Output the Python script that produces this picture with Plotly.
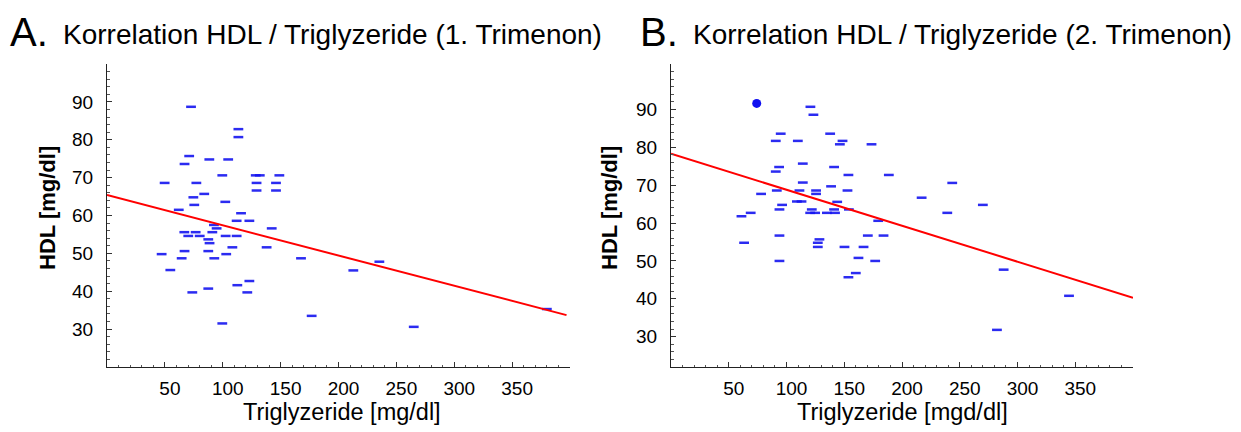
import plotly.graph_objects as go

W, H = 1241, 432

# ---------- Panel A data (1. Trimenon) ----------
a_tg = [72.6, 113.5, 113.5, 71, 67, 88.4, 104.7, 99.6, 128.5, 132, 148.9, 49.8, 77.2, 129.2, 146,
        129.2, 146, 84, 74.6, 102.2, 75.4, 62, 115.8, 112, 123, 142.3, 92.4, 94.7, 66.8, 76.6,
        91, 70.2, 80.1, 102.5, 112, 87.5, 88.6, 108.3, 137.9, 67, 87.5, 47.2, 103, 64.5, 92.7,
        167.6, 235.3, 54.7, 212.8, 123, 112.6, 87.5, 73.7, 121.2, 176.8, 99.6, 265, 380]
a_hdl = [88.7, 82.8, 80.7, 75.7, 73.6, 74.8, 74.8, 70.6, 70.6, 70.6, 70.6, 68.6, 68.6, 68.6, 68.6,
         66.6, 66.6, 65.7, 64.8, 63.6, 62.8, 61.5, 60.6, 58.6, 58.6, 56.6, 57.5, 56.6, 55.6, 55.6,
         55.6, 54.6, 54.6, 54.6, 54.6, 53.7, 52.7, 51.6, 51.6, 50.6, 50.6, 49.8, 49.8, 48.7, 48.7,
         48.7, 47.8, 45.6, 45.5, 42.7, 41.6, 40.7, 39.7, 39.7, 33.5, 31.5, 30.6, 35.3]
fit_a_x = [0, 397]
fit_a_y = [65.4, 33.7]

# ---------- Panel B data (2. Trimenon) ----------
b_tg = [120.7, 123.3, 95, 137.8, 90.7, 109.8, 148.5, 146.2, 173.6, 114.1, 93.6, 141.2, 90.7,
        153.6, 188.6, 114.1, 138.6, 91.6, 111.2, 125.6, 152.8, 78, 125.6, 243.5, 217, 109, 113,
        143.9, 96.2, 270, 93.9, 121.9, 141.2, 154, 69, 120.5, 124.8, 135, 142, 239.2, 61, 179.4,
        93.9, 170.4, 184, 128.5, 63.3, 127.1, 127.1, 150.2, 166.7, 162.3, 93.9, 176.8, 160,
        153.6, 288, 344.6, 282.2]
b_hdl = [90.7, 88.6, 83.6, 83.6, 81.7, 81.7, 81.7, 80.8, 80.8, 75.7, 74.8, 74.8, 73.6,
         72.7, 72.7, 70.7, 69.7, 68.6, 68.6, 68.6, 68.6, 67.7, 67.7, 70.6, 66.7, 65.7, 65.7,
         65.6, 64.8, 64.8, 63.6, 63.6, 63.6, 63.6, 62.7, 62.7, 62.7, 62.7, 62.7, 62.7, 61.8, 60.6,
         56.7, 56.7, 56.7, 55.7, 54.8, 54.8, 53.7, 53.7, 53.7, 50.8, 50.0, 50.0, 46.8,
         45.7, 47.7, 40.8, 31.8]
b_out_tg = [74.2]
b_out_hdl = [91.6]
fit_b_x = [0, 400]
fit_b_y = [78.3, 40.3]

x_ticks = [50, 100, 150, 200, 250, 300, 350]
y_ticks = [30, 40, 50, 60, 70, 80, 90]

FONT = "Liberation Sans, Arial, Helvetica, sans-serif"
BLUE = "rgba(20,20,240,0.9)"

fig = go.Figure()

def add_panel(xs, ys, fx, fy, xa, ya):
    fig.add_trace(go.Scatter(x=xs, y=ys, mode="markers", xaxis=xa, yaxis=ya,
                             marker=dict(symbol="line-ew", size=7,
                                         line=dict(color=BLUE, width=2.5)),
                             showlegend=False, hoverinfo="x+y"))
    fig.add_trace(go.Scatter(x=fx, y=fy, mode="lines", xaxis=xa, yaxis=ya,
                             line=dict(color="#ff0000", width=2),
                             showlegend=False, hoverinfo="skip"))

add_panel(a_tg, a_hdl, fit_a_x, fit_a_y, "x", "y")
add_panel(b_tg, b_hdl, fit_b_x, fit_b_y, "x2", "y2")
fig.add_trace(go.Scatter(x=b_out_tg, y=b_out_hdl, mode="markers", xaxis="x2", yaxis="y2",
                         marker=dict(symbol="circle", size=9, color="#1010f0"),
                         showlegend=False))

def xaxis_style(domain, anchor):
    return dict(domain=domain, anchor=anchor, range=[0, 400], tickvals=x_ticks,
                ticks="inside", ticklen=5, tickwidth=1, tickcolor="#333",
                minor=dict(dtick=10, tick0=0, ticks="inside", ticklen=2, tickcolor="#555"),
                showline=True, linecolor="#222", linewidth=1.2, showgrid=False, zeroline=False,
                tickfont=dict(family=FONT, size=19, color="#000"), ticklabelstandoff=4,
                ticklabelshift=5)

def yaxis_style(domain, anchor, rng):
    return dict(domain=domain, anchor=anchor, range=rng, tickvals=y_ticks,
                ticks="inside", ticklen=5, tickwidth=1, tickcolor="#333",
                minor=dict(dtick=2, tick0=0, ticks="inside", ticklen=3, tickcolor="#555"),
                showline=True, linecolor="#222", linewidth=1.2, showgrid=False, zeroline=False,
                tickfont=dict(family=FONT, size=19, color="#000"), ticklabelstandoff=9)

ybot = 1 - 367 / H
ytop = 1 - 64 / H
fig.update_layout(
    width=W, height=H, margin=dict(l=0, r=0, t=0, b=0),
    paper_bgcolor="white", plot_bgcolor="white",
    xaxis=xaxis_style([107 / W, 570 / W], "y"),
    yaxis=yaxis_style([ybot, ytop], "x", [20, 100]),
    xaxis2=xaxis_style([671 / W, 1133 / W], "y2"),
    yaxis2=yaxis_style([ybot, ytop], "x2", [22, 102]),
)

def ann(text, x, y, size, bold=False, angle=0, xanchor="center"):
    t = f"<b>{text}</b>" if bold else text
    fig.add_annotation(text=t, x=x / W, y=1 - y / H, xref="paper", yref="paper",
                       showarrow=False, textangle=angle, xanchor=xanchor, yanchor="middle",
                       font=dict(family=FONT, size=size, color="#000"))

# Panel titles
ann("A.", 8, 32, 40, xanchor="left")
ann("Korrelation HDL / Triglyzeride (1. Trimenon)", 61, 35, 28, xanchor="left")
ann("B.", 638, 32, 40, xanchor="left")
ann("Korrelation HDL / Triglyzeride (2. Trimenon)", 691, 35, 28, xanchor="left")

# Axis titles
ann("Triglyzeride [mg/dl]", 342, 412, 23.5)
ann("Triglyzeride [mgd/dl]", 902, 412, 23.5)
ann("HDL [mg/dl]", 48, 208, 22, bold=True, angle=-90)
ann("HDL [mg/dl]", 610, 208, 22, bold=True, angle=-90)

fig.write_html("out.html")
